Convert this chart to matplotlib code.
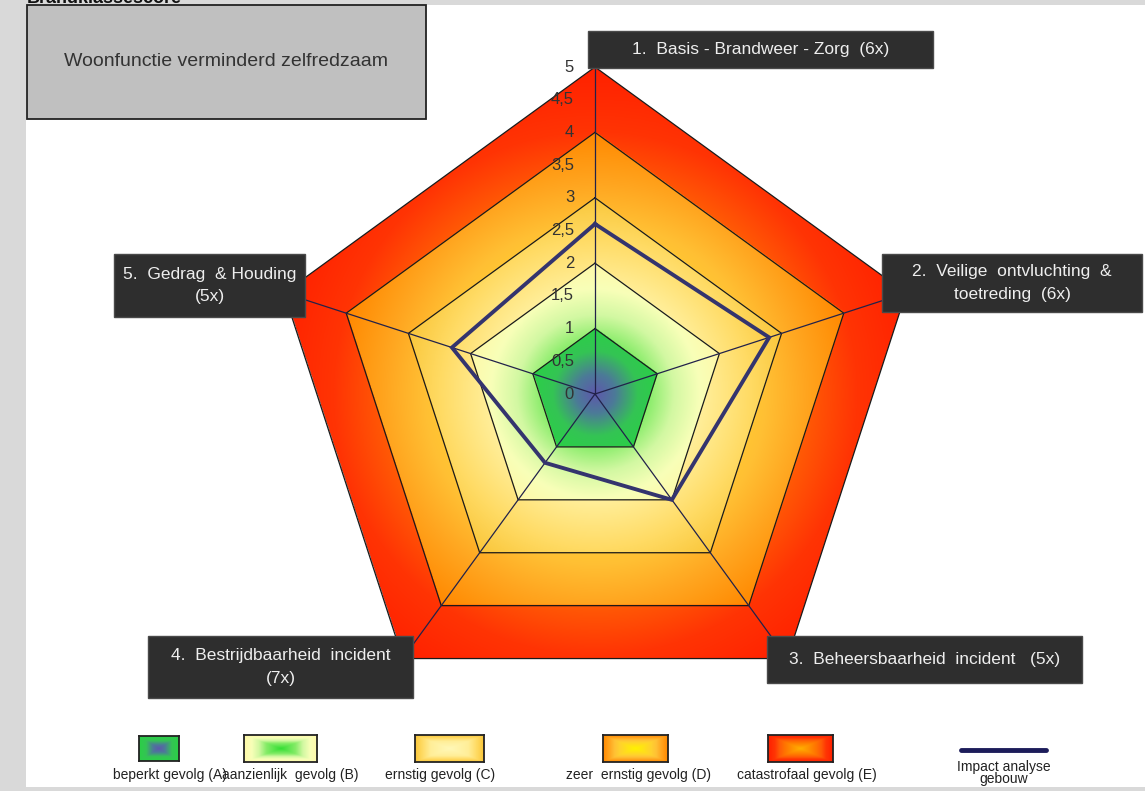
import numpy as np
import matplotlib
matplotlib.use('Agg')
import matplotlib.pyplot as plt
from matplotlib.colors import LinearSegmentedColormap
from matplotlib.patches import Rectangle, Polygon
from matplotlib.lines import Line2D

plt.rcParams['font.family'] = ['Liberation Sans', 'DejaVu Sans']

# data
categories = ['1.  Basis - Brandweer - Zorg  (6x)',
              '2.  Veilige  ontvluchting  &\ntoetreding  (6x)',
              '3.  Beheersbaarheid  incident   (5x)',
              '4.  Bestrijdbaarheid  incident\n(7x)',
              '5.  Gedrag  & Houding\n(5x)']
impact = [2.6, 2.8, 2.0, 1.3, 2.3]
levels = [1, 2, 3, 4, 5]
level_names = ['beperkt gevolg (A)', 'aanzienlijk  gevolg (B)', 'ernstig gevolg (C)',
               'zeer  ernstig gevolg (D)', 'catastrofaal gevolg (E)']
tick_values = [0, 0.5, 1, 1.5, 2, 2.5, 3, 3.5, 4, 4.5, 5]
impact_name = 'Impact analyse\ngebouw'
title = 'Woonfunctie verminderd zelfredzaam'
header = 'Brandklassescore'

# gradient colours per level, centre -> edge
level_cmaps = [
    LinearSegmentedColormap.from_list('A', [(0, '#5E58AC'), (0.3, '#4C7A98'), (0.65, '#34C454'), (1, '#2AD046')]),
    LinearSegmentedColormap.from_list('B', [(0, '#34DE34'), (0.4, '#86EC68'), (0.6, '#D2F8A2'), (0.8, '#F8FFB8'), (1, '#FFF8A8')]),
    LinearSegmentedColormap.from_list('C', [(0, '#FFF8B8'), (0.55, '#FFEE98'), (0.8, '#FFDA62'), (1, '#FAC63A')]),
    LinearSegmentedColormap.from_list('D', [(0, '#FFF200'), (0.5, '#FFD030'), (0.65, '#FFC034'), (0.8, '#FFA620'), (1, '#FF8800')]),
    LinearSegmentedColormap.from_list('E', [(0, '#FFB000'), (0.45, '#FF7800'), (0.65, '#FF5A06'), (0.8, '#FF3404'), (1, '#FF2000')]),
]

W, H = 1145, 791
fig = plt.figure(figsize=(W / 100, H / 100), dpi=100)
fig.patch.set_facecolor('#D9D9D9')


def fx(x):
    return x / W


def fy(y):
    return 1 - y / H


def fig_rect(x0, y0, x1, y1, **kw):
    r = Rectangle((fx(x0), fy(y1)), fx(x1) - fx(x0), fy(y0) - fy(y1), transform=fig.transFigure, **kw)
    fig.patches.append(r)
    return r


# white page and header (header is cut off at the top, as in the original)
fig_rect(26, 5, W + 5, 787, facecolor='white', edgecolor='none', zorder=-5)
fig.text(fx(27), fy(3), header, fontsize=13, fontweight='bold', ha='left', va='baseline', color='#111111')
fig_rect(27, 5, 426, 119, facecolor='#C0C0C0', edgecolor='#222222', linewidth=1.3, zorder=1)
fig.text(fx(226), fy(62), title, fontsize=14, ha='center', va='center', color='#333333', zorder=2)

# radar axes, centre at pixel (595, 394), 65.4 px per unit
scale = 65.4
cx, cy = 595, 394
xr, yr = 7.0, 6.0
ax = fig.add_axes([fx(cx - xr * scale), fy(cy + yr * scale), 2 * xr * scale / W, 2 * yr * scale / H])
ax.axis('off')
ax.patch.set_visible(False)

n = len(categories)
angles = np.pi / 2 - 2 * np.pi * np.arange(n) / n
max_level = levels[-1]

# gradient fill of the nested pentagons
gx = np.linspace(-5.2, 5.2, 900)
gy = np.linspace(-4.3, 5.2, 850)
X, Y = np.meshgrid(gx, gy)
normals = angles - np.pi / n
proj = np.max([X * np.cos(a) + Y * np.sin(a) for a in normals], axis=0) / np.cos(np.pi / n)
R = np.hypot(X, Y)
lev = np.clip(np.ceil(proj - 1e-9), 1, max_level).astype(int)
rgba = np.zeros(X.shape + (4,))
for i, L in enumerate(levels):
    mask = lev == L
    rgba[mask] = level_cmaps[i](np.clip(R[mask] / L, 0, 1))
rgba[proj > max_level] = 0
outer = Polygon(np.column_stack([max_level * np.cos(angles), max_level * np.sin(angles)]),
                closed=True, facecolor='none', edgecolor='none')
ax.add_patch(outer)
img = ax.imshow(rgba, origin='lower', extent=(gx[0], gx[-1], gy[0], gy[-1]), interpolation='bilinear', zorder=1)
img.set_clip_path(outer)
ax.set_xlim(-xr, xr)
ax.set_ylim(-yr, yr)
ax.set_aspect('auto')

# grid
for L in levels:
    ax.plot(np.append(L * np.cos(angles), L * np.cos(angles[0])),
            np.append(L * np.sin(angles), L * np.sin(angles[0])), color='#1A1A1A', linewidth=0.9, zorder=2)
for a in angles:
    ax.plot([0, max_level * np.cos(a)], [0, max_level * np.sin(a)], color='#22224A', linewidth=0.9, zorder=2)

# impact line
vals = np.array(impact + impact[:1])
ang = np.append(angles, angles[0])
ax.plot(vals * np.cos(ang), vals * np.sin(ang), color='#34346E', linewidth=2.8, zorder=3, solid_joinstyle='miter')

# tick labels on the first axis
for v in tick_values:
    ax.text(-0.32, v, ('%g' % v).replace('.', ','), ha='right', va='center', fontsize=12, color='#333333', zorder=4)

# category boxes
boxes = [(588, 31, 933, 68), (882, 254, 1142, 312), (767, 636, 1082, 683), (148, 636, 413, 698), (114, 254, 305, 317)]
for name, (x0, y0, x1, y1) in zip(categories, boxes):
    fig_rect(x0, y0, x1, y1, facecolor='#2E2E2E', edgecolor='#4A4A4A', linewidth=1, zorder=3)
    fig.text(fx((x0 + x1) / 2), fy((y0 + y1) / 2), name, fontsize=12.5, ha='center', va='center',
             color='#EEEEEE', linespacing=1.6, zorder=4)

# legend
swatches = [(139, 736, 179, 761), (244, 735, 317, 762), (415, 735, 484, 762), (603, 735, 668, 762), (768, 735, 833, 762)]
label_x = [170, 290, 440, 639, 807]
U, V = np.meshgrid(np.linspace(-1, 1, 120), np.linspace(-1, 1, 60))
T = np.maximum(np.abs(U), np.abs(V))
for i, (x0, y0, x1, y1) in enumerate(swatches):
    sax = fig.add_axes([fx(x0), fy(y1), fx(x1) - fx(x0), fy(y0) - fy(y1)])
    sax.imshow(level_cmaps[i](T), aspect='auto', interpolation='bilinear')
    sax.set_xticks([])
    sax.set_yticks([])
    for s in sax.spines.values():
        s.set_color('#222222')
        s.set_linewidth(1.3)
    fig.text(fx(label_x[i]), fy(775), level_names[i], fontsize=10, ha='center', va='center', color='#222222')

fig.lines.append(Line2D([fx(961), fx(1046)], [fy(750), fy(750)], transform=fig.transFigure,
                        color='#1C1C5A', linewidth=3.5, solid_capstyle='round'))
fig.text(fx(1004), fy(773), impact_name, fontsize=10, ha='center', va='center', color='#222222', linespacing=0.85)

fig.savefig('out.png', dpi=100, facecolor=fig.get_facecolor())
